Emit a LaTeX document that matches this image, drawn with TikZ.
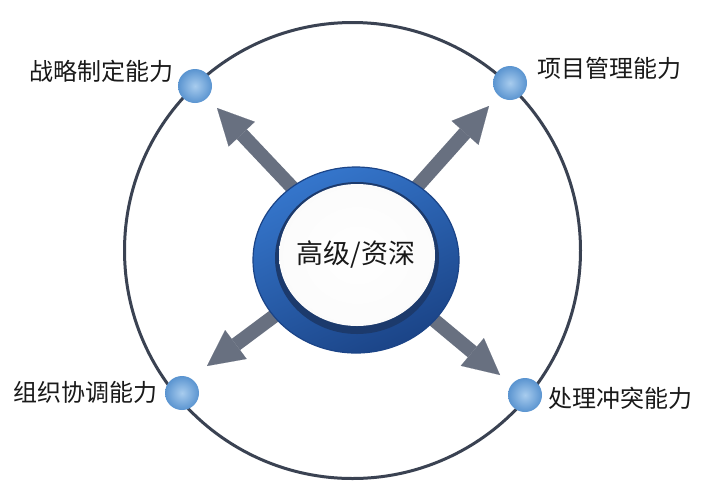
\documentclass[tikz,border=0pt]{standalone}
\usepackage{fontspec}
\newfontfamily\cjk{Noto Sans CJK SC}
\usetikzlibrary{arrows.meta}
\definecolor{ringline}{HTML}{3A4252}
\definecolor{arrowgray}{HTML}{687080}
\definecolor{balledge}{HTML}{5A94D0}
\definecolor{ballmid}{HTML}{A8CCEE}
\definecolor{blueA}{HTML}{3576CC}
\definecolor{blueB}{HTML}{1B4487}
\definecolor{rimdark}{HTML}{1C3A6C}
\definecolor{discmid}{HTML}{E6E8EB}
\definecolor{discedge}{HTML}{B0B4BA}
\pgfdeclareradialshading{discshade}{\pgfpoint{0bp}{0bp}}{color(0bp)=(white); color(26bp)=(white!97!gray); color(42bp)=(discmid); color(49bp)=(discedge); color(50bp)=(discedge)}
\tikzset{
  arrowstyle/.style={draw=arrowgray, line width=14pt, -{Triangle[width=36pt,length=36pt,line width=0.1pt]}},
  ballstyle/.style={circle, minimum size=34pt, inner sep=0pt, inner color=ballmid, outer color=balledge},
  lbl/.style={font=\cjk\fontsize{24}{28}\selectfont, text=black!90, inner sep=0pt},
}
\begin{document}
\begin{tikzpicture}[x=1pt,y=-1pt]
\useasboundingbox[fill=white] (0,0) rectangle (709,491);
% big circle
\coordinate (o) at (352.5,250.5);
\draw[ringline, line width=3pt] (o) circle[radius=228pt];
% arrows
\coordinate (c) at (356,255);
\coordinate (tTL) at (217,108);
\coordinate (tTR) at (489,106);
\coordinate (tBR) at (500,375);
\coordinate (tBL) at (207,366);
\draw[arrowstyle] (c) -- (tTL);
\draw[arrowstyle] (c) -- (tTR);
\draw[arrowstyle] (c) -- (tBR);
\draw[arrowstyle] (c) -- (tBL);
% button
\shade[top color=blueA, bottom color=blueB, shading angle=25, draw=blueB, line width=1.2pt] (356,260) ellipse [x radius=103pt, y radius=93pt];
\fill[rimdark] (357,258) ellipse [x radius=82pt, y radius=76pt];
\shade[shading=discshade] (357,255) ellipse [x radius=78pt, y radius=71pt];
\node[font=\cjk\fontsize{27}{32}\selectfont, text=black!90] (ctext) at (c) {高级/资深};
% balls
\node[ballstyle] (bTL) at (195,86) {};
\node[ballstyle] (bTR) at (510,83) {};
\node[ballstyle] (bBL) at (182,393) {};
\node[ballstyle] (bBR) at (525,395) {};
% labels
\node[lbl] (lTL) at (101,71) {战略制定能力};
\node[lbl] (lTR) at (609,68) {项目管理能力};
\node[lbl] (lBL) at (85,392) {组织协调能力};
\node[lbl] (lBR) at (620,398) {处理冲突能力};
\end{tikzpicture}
\end{document}
